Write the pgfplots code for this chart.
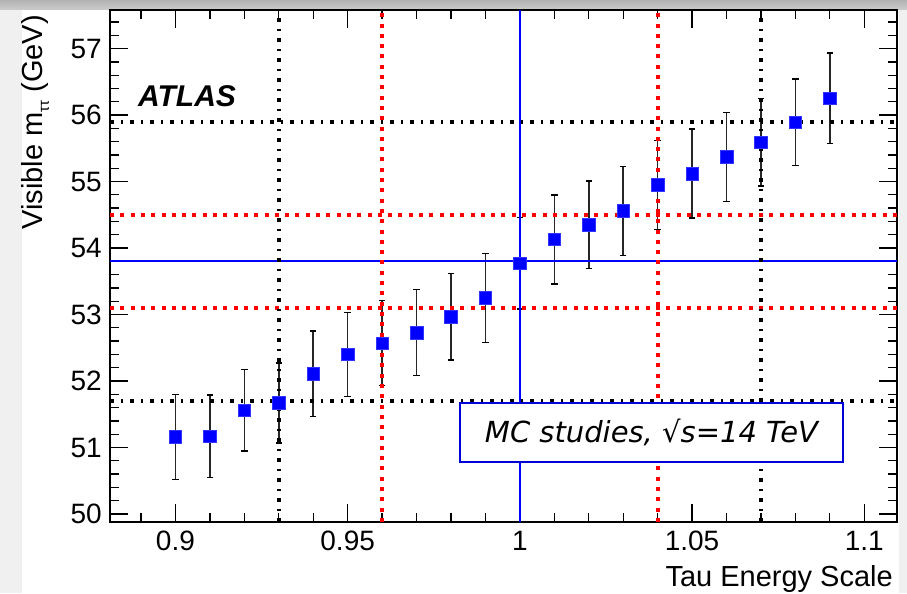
\documentclass[border=0pt]{standalone}
\usepackage{fontspec}
\setmainfont{Liberation Sans}
\newfontfamily\boxfont{DejaVu Sans}
\usepackage{pgfplots}
\pgfplotsset{compat=1.18}
\definecolor{rootblue}{RGB}{0,0,255}
\pgfplotstableread{
x y e
0.90 51.16 0.64
0.91 51.17 0.62
0.92 51.56 0.61
0.93 51.67 0.60
0.94 52.11 0.64
0.95 52.40 0.63
0.96 52.57 0.64
0.97 52.73 0.65
0.98 52.97 0.65
0.99 53.25 0.67
1.00 53.77 0.69
1.01 54.13 0.67
1.02 54.35 0.66
1.03 54.56 0.67
1.04 54.95 0.67
1.05 55.12 0.67
1.06 55.37 0.67
1.07 55.59 0.66
1.08 55.89 0.65
1.09 56.25 0.68
}\datatable
\begin{document}
\begin{tikzpicture}
\fill[gray!12] (-110pt,-71pt) rectangle (797pt,522pt);
\fill[white] (-88pt,-71pt) rectangle (789pt,512pt);
\shade[top color=gray!60, bottom color=gray!40] (-110pt,512pt) rectangle (797pt,522pt);
\begin{axis}[
  at={(0pt,0pt)}, anchor=south west,
  scale only axis, width=787pt, height=512pt,
  xmin=0.881, xmax=1.1095, ymin=49.88, ymax=57.58,
  xtick={0.9,0.95,1,1.05,1.1},
  xticklabels={0.9,0.95,1,1.05,1.1},
  minor xtick={0.89,0.91,0.92,0.93,0.94,0.96,0.97,0.98,0.99,1.01,1.02,1.03,1.04,1.06,1.07,1.08,1.09},
  ytick={50,51,52,53,54,55,56,57},
  yticklabels={50,51,52,53,54,55,56,57},
  minor ytick={50,50.2,...,57.5},
  major tick length=18pt, minor tick length=9pt,
  tick align=inside,
  every tick/.style={black, line width=1.3pt},
  axis line style={line width=2pt},
  xticklabel style={font=\fontsize{28}{30}\selectfont, inner sep=0pt, yshift=-9pt},
  yticklabel style={font=\fontsize{28}{30}\selectfont, inner sep=0pt, xshift=-8pt},
  clip=true,
]
% error bars
\addplot[black, line width=1.5pt, mark=none, draw=none,
  error bars/.cd, y dir=both, y explicit,
  error bar style={black!85, line width=1.5pt},
  error mark=-,
  error mark options={black, line width=1.5pt, mark size=3.2pt, rotate=90}]
  table[x=x, y=y, y error=e] {\datatable};
% markers
\addplot[only marks, mark=square*, mark size=6.3pt,
  mark options={fill=rootblue, draw=rootblue!80, line width=0.5pt}]
  table[x=x, y=y] {\datatable};
% blue reference lines
\addplot[draw=rootblue, line width=2pt, mark=none] coordinates {(0.881,53.8) (1.1095,53.8)};
\addplot[draw=rootblue, line width=1.5pt, mark=none] coordinates {(1.0,49.88) (1.0,57.58)};
% red dotted lines
\addplot[red, line width=4pt, dash pattern=on 4pt off 6.3pt] coordinates {(0.881,54.5) (1.1095,54.5)};
\addplot[red, line width=4pt, dash pattern=on 4pt off 6.3pt] coordinates {(0.881,53.1) (1.1095,53.1)};
\addplot[red, line width=4pt, dash pattern=on 4pt off 6.3pt] coordinates {(0.96,49.88) (0.96,57.58)};
\addplot[red, line width=4pt, dash pattern=on 4pt off 6.3pt] coordinates {(1.04,49.88) (1.04,57.58)};
% black dash-dot lines
\addplot[black, line width=4pt, dash pattern=on 4pt off 7pt on 1.5pt off 7.5pt] coordinates {(0.881,55.9) (1.1095,55.9)};
\addplot[black, line width=4pt, dash pattern=on 4pt off 7pt on 1.5pt off 7.5pt] coordinates {(0.881,51.7) (1.1095,51.7)};
\addplot[black, line width=4pt, dash pattern=on 4pt off 7pt on 1.5pt off 7.5pt] coordinates {(0.93,49.88) (0.93,57.58)};
\addplot[black, line width=4pt, dash pattern=on 4pt off 7pt on 1.5pt off 7.5pt] coordinates {(1.07,49.88) (1.07,57.58)};
\end{axis}
% ATLAS label
\node[anchor=base west, font=\fontsize{30}{32}\selectfont\bfseries\itshape, inner sep=0pt] at (28pt,415pt) {ATLAS};
% text box
\draw[rootblue!85!black, line width=1.5pt, fill=white] (350pt,60pt) rectangle (733pt,119pt);
\node[font=\fontsize{29}{31}\selectfont\boxfont\itshape, inner sep=0pt] at (541.5pt,89.5pt) {MC studies, √s=14 TeV};
% axis labels
\node[rotate=90, anchor=base east, inner sep=0pt, font=\fontsize{29}{31}\selectfont] at (-67pt,507pt) {Visible m\raisebox{-6pt}{\fontsize{15}{16}\selectfont ττ} (GeV)};
\node[anchor=base east, inner sep=0pt, font=\fontsize{29}{31}\selectfont] at (783pt,-65pt) {Tau Energy Scale};
\end{tikzpicture}
\end{document}
